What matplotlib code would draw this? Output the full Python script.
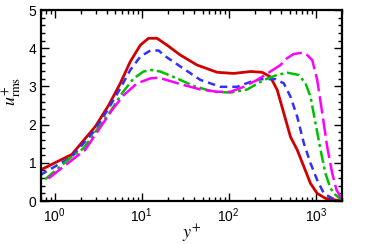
import matplotlib
matplotlib.use('Agg')
import matplotlib.pyplot as plt
import numpy as np
from matplotlib.ticker import LogLocator, MultipleLocator, NullFormatter

plt.rcParams['font.family'] = ['Liberation Sans', 'DejaVu Sans']
plt.rcParams['mathtext.fontset'] = 'custom'
plt.rcParams['mathtext.rm'] = 'Liberation Sans'
plt.rcParams['mathtext.it'] = 'Liberation Sans:italic'

# red solid
y_red = [0.685, 1.58, 2.94, 4.19, 5.69, 7.41, 9.66, 12.0, 15.0, 19.6, 27.9, 43.3, 73.6, 114, 178, 242,
         301, 360, 429, 512, 611, 729, 869, 1037, 1290, 1762, 2000]
u_red = [0.81, 1.22, 1.95, 2.51, 3.08, 3.65, 4.08, 4.26, 4.26, 4.08, 3.82, 3.56, 3.37, 3.34, 3.39, 3.37,
         3.25, 2.91, 2.30, 1.68, 1.34, 0.90, 0.46, 0.20, 0.07, 0.02, 0.01]

# blue dashed
y_blue = [0.685, 1.58, 2.81, 4.19, 5.69, 7.41, 9.66, 12.6, 15.7, 17.9, 27.9, 47.3, 80.3, 125, 178, 231,
          344, 429, 512, 611, 729, 869, 1037, 1236, 1545, 1960]
u_blue = [0.68, 1.16, 1.81, 2.43, 2.95, 3.43, 3.78, 3.94, 3.94, 3.82, 3.52, 3.17, 2.99, 2.99, 3.12, 3.19,
          3.19, 3.08, 2.73, 2.21, 1.51, 0.99, 0.55, 0.20, 0.07, 0.02]

# green dash-dot
y_green = [0.78, 1.58, 2.15, 2.94, 4.37, 5.95, 8.1, 10.5, 13.0, 16.4, 25.5, 39.6, 67.3, 105, 163, 253,
           360, 469, 638, 762, 869, 993, 1133, 1290, 1476, 1683, 1960]
u_green = [0.57, 1.16, 1.38, 1.81, 2.34, 2.82, 3.21, 3.39, 3.43, 3.39, 3.21, 3.01, 2.86, 2.84, 2.92, 3.17,
           3.30, 3.36, 3.30, 3.08, 2.73, 2.03, 1.34, 0.72, 0.33, 0.16, 0.04]

# magenta long dash
y_mag = [0.85, 1.58, 2.25, 3.2, 4.57, 6.21, 8.85, 12.6, 15.7, 27.9, 47.3, 73.6, 105, 149, 212, 301,
         393, 469, 559, 698, 798, 910, 1037, 1186, 1350, 1545, 1730, 1960]
u_mag = [0.59, 1.07, 1.34, 1.86, 2.38, 2.77, 3.08, 3.21, 3.23, 3.06, 2.92, 2.86, 2.86, 2.99, 3.17, 3.39,
         3.56, 3.74, 3.85, 3.88, 3.82, 3.69, 3.17, 2.30, 1.42, 0.72, 0.29, 0.07]

fig = plt.figure(figsize=(3.73, 2.44), dpi=100)
ax = fig.add_axes([0.110, 0.176, 0.807, 0.783])

ax.plot(y_red, u_red, color='#d00000', lw=2.0, ls='-')
ax.plot(y_blue, u_blue, color='#3030ff', lw=1.8, ls=(0, (3, 2)))
ax.plot(y_green, u_green, color='#00c000', lw=1.8, ls=(0, (5, 1.5, 1.2, 1.5)))
ax.plot(y_mag, u_mag, color='#ff00ff', lw=1.8, ls=(0, (7, 2)))

ax.set_xscale('log')
ax.set_xlim(0.7, 2000)
ax.set_ylim(0, 5)
ax.yaxis.set_major_locator(MultipleLocator(1))
ax.yaxis.set_minor_locator(MultipleLocator(0.2))
ax.xaxis.set_major_locator(LogLocator(base=10, numticks=10))
ax.xaxis.set_minor_locator(LogLocator(base=10, subs=np.arange(2, 10), numticks=20))
ax.xaxis.set_minor_formatter(NullFormatter())

ax.tick_params(which='both', direction='in', top=True, right=True, labelsize=10, width=1)
ax.tick_params(which='major', length=6)
ax.tick_params(which='minor', length=3)
for s in ax.spines.values():
    s.set_linewidth(1.6)

ax.set_xlabel('$y^{+}$', fontsize=13, math_fontfamily='stix')
ax.set_ylabel('$u^{+}_{\\mathrm{rms}}$', fontsize=13, math_fontfamily='stix')
ax.yaxis.set_label_coords(-0.058, 0.576)
ax.xaxis.set_label_coords(0.5, -0.112)

fig.savefig('out.png', dpi=100)
